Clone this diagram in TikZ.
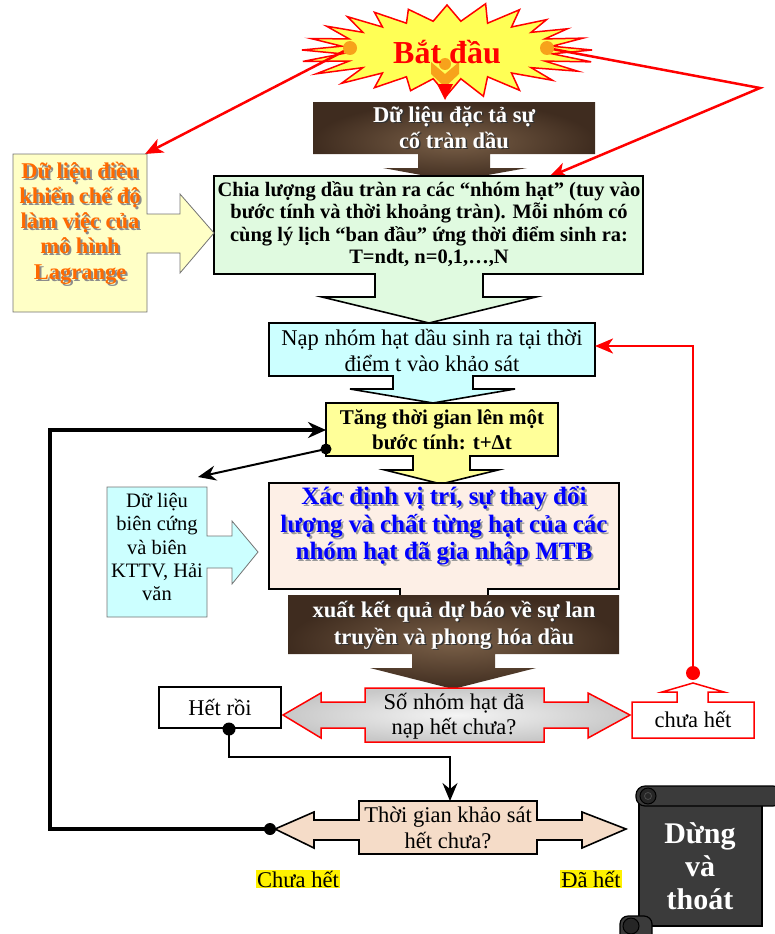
\documentclass[tikz,border=0pt]{standalone}
\usepackage{fontspec}
\setmainfont{Liberation Serif}
\usetikzlibrary{arrows.meta}
\definecolor{burstyellow}{HTML}{FFFF55}
\definecolor{dotorange}{HTML}{F7A21B}
\definecolor{greenfill}{HTML}{E0FAE0}
\definecolor{lyellow}{HTML}{FFFFC6}
\definecolor{cyanfill}{HTML}{CCFFFF}
\definecolor{tangyellow}{HTML}{FFFF99}
\definecolor{peachfill}{HTML}{FDEFE6}
\definecolor{tgfill}{HTML}{F5DCC8}
\definecolor{browninner}{HTML}{7A6048}
\definecolor{brownouter}{HTML}{3F2C1F}
\definecolor{grayinner}{HTML}{F4F4F4}
\definecolor{grayouter}{HTML}{C8C8C8}
\definecolor{orangetext}{HTML}{FF6A00}
\definecolor{scrollgray}{HTML}{3B3B3B}
\definecolor{scrolldark}{HTML}{262626}
\newcommand\shln[3]{\makebox[0pt][l]{\kern#3\raisebox{-#3}{\textcolor{#1}{#2}}}#2}
\begin{document}
\begin{tikzpicture}[x=1pt,y=-1pt,
  txt/.style={align=center, inner sep=0pt},
  boxline/.style={draw=black, line width=1.6pt, line join=miter},
  thinline/.style={draw=black!55, line width=0.8pt, line join=miter},
  brownshade/.style={inner color=browninner, outer color=brownouter},
  redline/.style={draw=red, line width=2.5pt},
  redarrow/.style={redline, -{Stealth[length=18pt,width=15pt,inset=5pt]}},
  blackarrow/.style={draw=black, line width=2pt, -{Stealth[length=18pt,width=15pt,inset=6pt]}},
  thickarrow/.style={draw=black, line width=4pt, -{Stealth[length=18pt,width=16pt,inset=6pt]}},
  fa/.style={font=\fontsize{22.5}{25.5}\selectfont},
  fnap/.style={font=\fontsize{22.5}{26}\selectfont},
  fab/.style={font=\fontsize{21}{25}\selectfont\bfseries},
  fgreen/.style={font=\fontsize{20.5}{22.5}\selectfont\bfseries},
  fblue/.style={font=\fontsize{25}{27.5}\selectfont\bfseries},
  forange/.style={font=\fontsize{22.5}{25.2}\selectfont\bfseries},
  fwhite/.style={font=\fontsize{22.5}{26}\selectfont\bfseries},
  fscroll/.style={font=\fontsize{30}{33}\selectfont\bfseries},
  hilite/.style={fill=yellow, inner sep=1pt, font=\fontsize{22.5}{25}\selectfont}
]
\useasboundingbox (0,0) rectangle (775,934);

% ---------- start burst ----------
\filldraw[fill=burstyellow, draw=red, line width=1.5pt, line join=miter]
  (592,50) \foreach \a in {15,30,...,360} {
     -- ({447+106*cos(\a-7.5)},{50+29*sin(\a-7.5)})
     -- ({447+(145+6*sin(3*\a))*cos(\a)},{50+(45+3*cos(5*\a))*sin(\a)}) } -- cycle;
\coordinate (dl) at (350,48);
\coordinate (dr) at (547,48);
\coordinate (ytop) at (145,154);
\coordinate (rbend) at (760,88);
\coordinate (gtop) at (549,177);
\draw[redarrow] (dl) -- (ytop);
\draw[redarrow] (dr) -- (rbend) -- (gtop);
\fill[dotorange] (dl) circle (7);
\fill[dotorange] (dr) circle (7);
\fill[dotorange] (431,62) -- (445,74) -- (459,62) -- (459,74) -- (445,87) -- (431,74) -- cycle;
\fill[dotorange] (445,64) circle (6);
\fill[red] (437,84) -- (453,84) -- (445,100) -- cycle;
\node[txt, text=red, font=\fontsize{32}{36}\selectfont\bfseries] (start) at (447,52) {Bắt đầu};

% ---------- top brown box ----------
\shade[brownshade] (313,102) -- (595,102) -- (595,154) -- (490,154) -- (490,168) -- (527,168)
  -- (454,181) -- (383,168) -- (418,168) -- (418,154) -- (313,154) -- cycle;
\node[txt, fwhite, text=white] (spec) at (454,128) {\shln{black!80}{Dữ liệu đặc tả sự}{1.5pt}\\\shln{black!80}{cố tràn dầu}{1.5pt}};

% ---------- green box ----------
\filldraw[fill=greenfill, boxline] (214,176) -- (643,176) -- (643,274) -- (483,274) -- (483,297)
  -- (536,297) -- (429,323) -- (322,297) -- (375,297) -- (375,274) -- (214,274) -- cycle;
\node[txt, fgreen] (split) at (429,224) {Chia lượng dầu tràn ra các “nhóm hạt” (tuy vào\\bước tính và thời khoảng tràn). Mỗi nhóm có\\cùng lý lịch “ban đầu” ứng thời điểm sinh ra:\\T=ndt, n=0,1,…,N};

% ---------- left yellow box ----------
\filldraw[fill=lyellow, thinline] (13,154) -- (147,154) -- (147,214) -- (180,214) -- (180,194)
  -- (214,233) -- (180,273) -- (180,253) -- (147,253) -- (147,312) -- (13,312) -- cycle;
\node[txt, forange, text=orangetext] (ctrl) at (80,224) {\shln{black!45}{Dữ liệu điều}{2pt}\\\shln{black!45}{khiển chế độ}{2pt}\\\shln{black!45}{làm việc của}{2pt}\\\shln{black!45}{mô hình}{2pt}\\\shln{black!45}{Lagrange}{2pt}};

% ---------- cyan box ----------
\filldraw[fill=cyanfill, boxline] (269,323) -- (595,323) -- (595,376) -- (473,376) -- (473,389)
  -- (515,389) -- (433,403) -- (350,389) -- (393,389) -- (393,376) -- (269,376) -- cycle;
\node[txt, fnap] (load) at (432,350) {Nạp nhóm hạt dầu sinh ra tại thời\\điểm t vào khảo sát};
\coordinate (loadin) at (595,346);

% ---------- yellow step box ----------
\filldraw[fill=tangyellow, boxline] (326,403) -- (558,403) -- (558,456) -- (470,456) -- (470,470)
  -- (498,470) -- (441,484) -- (385,470) -- (413,470) -- (413,456) -- (326,456) -- cycle;
\node[txt, fab] (tstep) at (442,430) {Tăng thời gian lên một\\bước tính: t+Δt};
\coordinate (tin) at (326,430);
\coordinate (tdot) at (326,449);

% ---------- peach box ----------
\filldraw[fill=peachfill, boxline] (269,483) -- (619,483) -- (619,589) -- (488,589) -- (488,600)
  -- (400,600) -- (400,589) -- (269,589) -- cycle;
\node[txt, fblue, text=blue] (pos) at (444,527) {\shln{black!40}{Xác định vị trí, sự thay đổi}{2pt}\\\shln{black!40}{lượng và chất từng hạt của các}{2pt}\\\shln{black!40}{nhóm hạt đã gia nhập MTB}{2pt}};

% ---------- left cyan box ----------
\filldraw[fill=cyanfill, thinline] (107,487) -- (207,487) -- (207,536) -- (232,536) -- (232,521)
  -- (258,552) -- (232,584) -- (232,568) -- (207,568) -- (207,617) -- (107,617) -- cycle;
\node[txt, font=\fontsize{20.5}{23.2}\selectfont] (bound) at (157,547) {Dữ liệu\\biên cứng\\và biên\\KTTV, Hải\\văn};
\coordinate (boundtop) at (198,477);

% ---------- bottom brown box ----------
\shade[brownshade] (288,595) -- (619,595) -- (619,654) -- (495,654) -- (495,668) -- (536,668)
  -- (453,689) -- (370,668) -- (412,668) -- (412,654) -- (288,654) -- cycle;
\node[txt, fwhite, font=\fontsize{22.5}{27}\selectfont\bfseries, text=white] (out) at (454,626) {\shln{black!80}{xuất kết quả dự báo về sự lan}{1.5pt}\\\shln{black!80}{truyền và phong hóa dầu}{1.5pt}};

% ---------- decision 1 ----------
\shade[inner color=grayinner, outer color=grayouter] (365,688) -- (544,688) -- (544,702) -- (588,702) -- (588,693)
  -- (630,715) -- (588,738) -- (588,728) -- (544,728) -- (544,742) -- (365,742) -- (365,728)
  -- (321,728) -- (321,738) -- (283,715) -- (321,693) -- (321,702) -- (365,702) -- cycle;
\draw[draw=red, line width=1.5pt, line join=miter] (365,688) -- (544,688) -- (544,702) -- (588,702) -- (588,693)
  -- (630,715) -- (588,738) -- (588,728) -- (544,728) -- (544,742) -- (365,742) -- (365,728)
  -- (321,728) -- (321,738) -- (283,715) -- (321,693) -- (321,702) -- (365,702) -- cycle;
\node[txt, fa] (dec1) at (454,716) {Số nhóm hạt đã\\nạp hết chưa?};

\node[draw=black, line width=1.2pt, fill=white, minimum width=122pt, minimum height=41pt, inner sep=0pt, fa] (done) at (220,707.5) {Hết rồi};
\coordinate (donedot) at (229,729);
\coordinate (donebend) at (229,757);
\coordinate (dec2top) at (450,801);

\filldraw[fill=white, draw=red, line width=1.5pt, line join=miter] (632,702) -- (677,702) -- (677,692) -- (662,692)
  -- (693,683) -- (724,692) -- (708,692) -- (708,702) -- (754,702) -- (754,738) -- (632,738) -- cycle;
\node[txt, fa] (notyet) at (693,719) {chưa hết};
\coordinate (reddot) at (693,673);
\coordinate (redcorner) at (693,346);

% ---------- decision 2 ----------
\filldraw[fill=tgfill, boxline] (359,801) -- (537,801) -- (537,820) -- (582,820) -- (582,812)
  -- (626,829) -- (582,848) -- (582,840) -- (537,840) -- (537,854) -- (359,854) -- (359,840)
  -- (314,840) -- (314,848) -- (275,829) -- (314,812) -- (314,820) -- (359,820) -- cycle;
\node[txt, fa] (dec2) at (448,828) {Thời gian khảo sát\\hết chưa?};
\coordinate (tgdot) at (270,829);
\coordinate (lb) at (50,829);
\coordinate (lt) at (50,430);

% ---------- connectors ----------
\draw[redarrow] (reddot) -- (redcorner) -- (loadin);
\fill[red] (reddot) circle (7);
\draw[blackarrow] (tdot) -- (boundtop);
\fill[black] (tdot) circle (5.5);
\draw[thickarrow] (tgdot) -- (lb) -- (lt) -- (tin);
\fill[black] (tgdot) circle (6);
\draw[blackarrow] (donedot) -- (donebend) -- (donebend -| dec2top) -- (dec2top);
\fill[black] (donedot) circle (6.5);

% ---------- labels ----------
\node[hilite] (lnot) at (298,879) {Chưa hết};
\node[hilite] (ldone) at (591,879) {Đã hết};

% ---------- scroll ----------
\filldraw[fill=scrollgray, draw=black, line width=1.2pt] (639,797) rectangle (762,926);
\filldraw[fill=scrollgray, draw=black, line width=1.2pt, rounded corners=9pt] (636,786) rectangle (782,806);
\filldraw[fill=scrolldark, draw=black, line width=1pt] (648,796) circle (8);
\draw[black!70, line width=0.8pt] (648,796) circle (3.5);
\filldraw[fill=scrollgray, draw=black, line width=1.2pt, rounded corners=8pt] (620,916) rectangle (652,945);
\filldraw[fill=scrolldark, draw=black, line width=1pt] (631,926) circle (8);
\node[txt, fscroll, text=white] (stop) at (700,866) {Dừng\\và\\thoát};
\end{tikzpicture}
\end{document}
